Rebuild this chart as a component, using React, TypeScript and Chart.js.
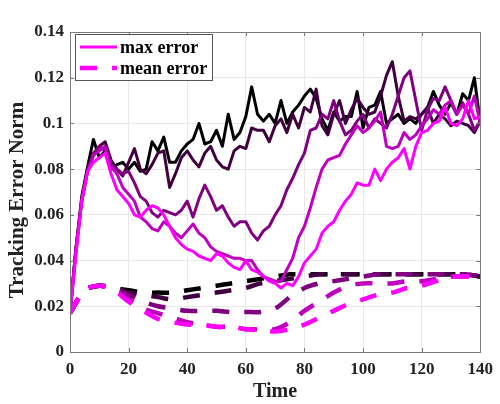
import React, { useEffect, useRef } from "react";
import { Chart, registerables } from "chart.js";

Chart.register(...registerables);

// ---------- data ----------
const timeMax = [
  0, 2, 4, 6, 8, 10, 12, 14, 16, 18,
  20, 22, 24, 26, 28, 30, 32, 34, 36, 38,
  40, 42, 44, 46, 48, 50, 52, 54, 56, 58,
  60, 62, 64, 66, 68, 70, 72, 74, 76, 78,
  80, 82, 84, 86, 88, 90, 92, 94, 96, 98,
  100, 102, 104, 106, 108, 110, 112, 114, 116, 118,
  120, 122, 124, 126, 128, 130, 132, 134, 136, 138,
  140,
];

const maxErr1 = [
  0.017, 0.045, 0.068, 0.081, 0.093, 0.085, 0.088, 0.080, 0.082, 0.083,
  0.080, 0.083, 0.079, 0.080, 0.092, 0.088, 0.094, 0.083, 0.083, 0.088,
  0.091, 0.093, 0.100, 0.091, 0.092, 0.097, 0.090, 0.104, 0.093, 0.096,
  0.103, 0.116, 0.104, 0.101, 0.104, 0.100, 0.110, 0.100, 0.105, 0.108,
  0.112, 0.115, 0.111, 0.102, 0.097, 0.105, 0.101, 0.103, 0.103, 0.114,
  0.098, 0.107, 0.108, 0.114, 0.100, 0.102, 0.104, 0.100, 0.102, 0.100,
  0.104, 0.107, 0.114, 0.108, 0.104, 0.109, 0.104, 0.113, 0.110, 0.120,
  0.100,
];

const maxErr2 = [
  0.017, 0.045, 0.066, 0.080, 0.086, 0.090, 0.092, 0.084, 0.080, 0.077,
  0.083, 0.089, 0.080, 0.078, 0.082, 0.087, 0.088, 0.072, 0.078, 0.085,
  0.088, 0.084, 0.081, 0.087, 0.090, 0.084, 0.081, 0.080, 0.088, 0.090,
  0.089, 0.098, 0.097, 0.097, 0.092, 0.099, 0.102, 0.096, 0.104, 0.098,
  0.107, 0.105, 0.115, 0.099, 0.095, 0.104, 0.110, 0.100, 0.106, 0.111,
  0.107, 0.104, 0.105, 0.112, 0.121, 0.127, 0.112, 0.101, 0.103, 0.102,
  0.104, 0.107, 0.100, 0.104, 0.102, 0.099, 0.101, 0.100, 0.099, 0.096,
  0.101,
];

const maxErr3 = [
  0.017, 0.044, 0.066, 0.079, 0.087, 0.090, 0.088, 0.082, 0.080, 0.078,
  0.079, 0.074, 0.068, 0.066, 0.061, 0.059, 0.062, 0.061, 0.060, 0.062,
  0.066, 0.059, 0.067, 0.073, 0.068, 0.062, 0.064, 0.059, 0.055, 0.057,
  0.057, 0.052, 0.049, 0.053, 0.055, 0.060, 0.064, 0.071, 0.076, 0.082,
  0.087, 0.097, 0.098, 0.104, 0.102, 0.110, 0.101, 0.095, 0.097, 0.101,
  0.104, 0.098, 0.102, 0.100, 0.098, 0.104, 0.112, 0.120, 0.123, 0.110,
  0.097, 0.106, 0.111, 0.110, 0.116, 0.110, 0.104, 0.109, 0.104, 0.097,
  0.101,
];

const maxErr4 = [
  0.017, 0.045, 0.066, 0.079, 0.086, 0.088, 0.090, 0.081, 0.078, 0.072,
  0.069, 0.066, 0.059, 0.057, 0.054, 0.053, 0.057, 0.055, 0.052, 0.050,
  0.053, 0.056, 0.052, 0.050, 0.046, 0.044, 0.043, 0.042, 0.041, 0.041,
  0.040, 0.040, 0.036, 0.033, 0.032, 0.031, 0.031, 0.036, 0.041, 0.050,
  0.055, 0.063, 0.072, 0.080, 0.084, 0.085, 0.086, 0.091, 0.095, 0.099,
  0.096, 0.098, 0.101, 0.105, 0.090, 0.089, 0.090, 0.096, 0.093, 0.095,
  0.099, 0.102, 0.106, 0.104, 0.108, 0.110, 0.104, 0.108, 0.104, 0.112,
  0.100,
];

const maxErr5 = [
  0.017, 0.042, 0.066, 0.079, 0.083, 0.085, 0.087, 0.078, 0.071, 0.068,
  0.065, 0.060, 0.059, 0.062, 0.064, 0.063, 0.060, 0.055, 0.050, 0.047,
  0.045, 0.044, 0.042, 0.041, 0.040, 0.043, 0.042, 0.039, 0.037, 0.036,
  0.040, 0.036, 0.035, 0.033, 0.031, 0.030, 0.028, 0.030, 0.029, 0.033,
  0.039, 0.042, 0.045, 0.052, 0.055, 0.057, 0.062, 0.066, 0.069, 0.074,
  0.073, 0.073, 0.080, 0.075, 0.080, 0.083, 0.085, 0.089, 0.080, 0.090,
  0.096, 0.097, 0.100, 0.101, 0.107, 0.100, 0.099, 0.102, 0.110, 0.102,
  0.103,
];

const timeMean = [
  0, 5, 10, 15, 20, 25, 30, 35, 40, 45,
  50, 55, 60, 65, 70, 75, 80, 85, 90, 95,
  100, 105, 110, 115, 120, 125, 130, 135, 140,
];

const meanErr1 = [
  0.017, 0.027, 0.029, 0.028, 0.027, 0.026, 0.026, 0.026, 0.027, 0.028,
  0.029, 0.030, 0.031, 0.032, 0.033, 0.034, 0.034, 0.034, 0.034, 0.034,
  0.034, 0.034, 0.034, 0.034, 0.034, 0.034, 0.034, 0.034, 0.033,
];

const meanErr2 = [
  0.017, 0.027, 0.029, 0.028, 0.026, 0.025, 0.024, 0.023, 0.024, 0.025,
  0.026, 0.027, 0.028, 0.030, 0.031, 0.032, 0.033, 0.034, 0.034, 0.034,
  0.034, 0.034, 0.034, 0.034, 0.034, 0.034, 0.034, 0.034, 0.033,
];

const meanErr3 = [
  0.017, 0.027, 0.029, 0.028, 0.025, 0.022, 0.020, 0.019, 0.018, 0.018,
  0.018, 0.0175, 0.0175, 0.0175, 0.019, 0.024, 0.028, 0.030, 0.031, 0.032,
  0.033, 0.034, 0.034, 0.034, 0.034, 0.034, 0.034, 0.034, 0.033,
];

const meanErr4 = [
  0.017, 0.027, 0.029, 0.027, 0.023, 0.019, 0.017, 0.015, 0.013, 0.012,
  0.011, 0.011, 0.010, 0.010, 0.010, 0.013, 0.018, 0.022, 0.026, 0.029,
  0.030, 0.030, 0.030, 0.031, 0.031, 0.032, 0.033, 0.033, 0.033,
];

const meanErr5 = [
  0.017, 0.027, 0.029, 0.027, 0.022, 0.018, 0.0145, 0.013, 0.012, 0.012,
  0.011, 0.011, 0.010, 0.0095, 0.009, 0.010, 0.012, 0.015, 0.018, 0.021,
  0.023, 0.025, 0.026, 0.028, 0.029, 0.031, 0.033, 0.033, 0.033,
];

const xTicks = [0, 20, 40, 60, 80, 100, 120, 140];
const yTicks = [0, 0.02, 0.04, 0.06, 0.08, 0.1, 0.12, 0.14];
const yTickLabels = ["0", "0.02", "0.04", "0.06", "0.08", "0.1", "0.12", "0.14"];
const legendLabels = ["max error", "mean error"];
const xTitle = "Time";
const yTitle = "Tracking Error Norm";

const lineColors = ["#000000", "#400040", "#800080", "#BF00BF", "#FF00FF"];
const maxSeries = [maxErr1, maxErr2, maxErr3, maxErr4, maxErr5];
const meanSeries = [meanErr1, meanErr2, meanErr3, meanErr4, meanErr5];

const FONT = "'Liberation Serif', 'Times New Roman', serif";
const DASH = [17, 15];

const framePlugin = {
  id: "matlabFrame",
  afterDraw(chart: any) {
    const { ctx, chartArea: a, scales } = chart;
    ctx.save();
    // inward ticks
    ctx.strokeStyle = "#7a7a7a";
    ctx.lineWidth = 1;
    ctx.beginPath();
    xTicks.forEach((v) => {
      const x = Math.round(scales.x.getPixelForValue(v)) + 0.5;
      ctx.moveTo(x, a.bottom);
      ctx.lineTo(x, a.bottom - 4);
      ctx.moveTo(x, a.top);
      ctx.lineTo(x, a.top + 4);
    });
    yTicks.forEach((v) => {
      const y = Math.round(scales.y.getPixelForValue(v)) + 0.5;
      ctx.moveTo(a.left, y);
      ctx.lineTo(a.left + 4, y);
      ctx.moveTo(a.right, y);
      ctx.lineTo(a.right - 4, y);
    });
    ctx.stroke();
    ctx.strokeRect(
      Math.round(a.left) + 0.5,
      Math.round(a.top) + 0.5,
      Math.round(a.right - a.left),
      Math.round(a.bottom - a.top)
    );

    // y axis title
    ctx.save();
    ctx.translate(18, (a.top + a.bottom) / 2 + 8);
    ctx.rotate(-Math.PI / 2);
    ctx.fillStyle = "#222222";
    ctx.font = `bold 21px ${FONT}`;
    ctx.textAlign = "center";
    ctx.textBaseline = "middle";
    ctx.fillText(yTitle, 0, 0);
    ctx.restore();

    // legend
    const bx = a.left + 5;
    const by = a.top + 2;
    const bw = 137;
    const bh = 46;
    ctx.fillStyle = "#ffffff";
    ctx.fillRect(bx, by, bw, bh);
    ctx.strokeStyle = "#555555";
    ctx.lineWidth = 1;
    ctx.strokeRect(Math.round(bx) + 0.5, Math.round(by) + 0.5, bw, bh);

    const lx0 = bx + 5;
    const lx1 = bx + 42;
    const y1 = by + 13;
    const y2 = by + 34;
    ctx.strokeStyle = lineColors[4];
    ctx.lineWidth = 3;
    ctx.setLineDash([]);
    ctx.beginPath();
    ctx.moveTo(lx0, y1);
    ctx.lineTo(lx1, y1);
    ctx.stroke();
    ctx.lineWidth = 4.5;
    ctx.setLineDash(DASH);
    ctx.beginPath();
    ctx.moveTo(lx0, y2);
    ctx.lineTo(lx1, y2);
    ctx.stroke();
    ctx.setLineDash([]);

    ctx.fillStyle = "#000000";
    ctx.font = `bold 18px ${FONT}`;
    ctx.textBaseline = "middle";
    ctx.textAlign = "left";
    ctx.fillText(legendLabels[0], bx + 45, y1 + 1);
    ctx.fillText(legendLabels[1], bx + 45, y2 + 1);
    ctx.restore();
  },
};

export default function App() {
  const canvasRef = useRef<HTMLCanvasElement | null>(null);

  useEffect(() => {
    if (!canvasRef.current) return;
    const solid = maxSeries.map((arr, i) => ({
      label: legendLabels[0] + " " + (i + 1),
      data: timeMax.map((t, k) => ({ x: t, y: arr[k] })),
      borderColor: lineColors[i],
      backgroundColor: lineColors[i],
      borderWidth: 3,
      pointRadius: 0,
      tension: 0,
      borderJoinStyle: "round" as const,
      fill: false,
      order: 2 * (4 - i) + 1,
    }));
    const dashed = meanSeries.map((arr, i) => ({
      label: legendLabels[1] + " " + (i + 1),
      data: timeMean.map((t, k) => ({ x: t, y: arr[k] })),
      borderColor: lineColors[i],
      backgroundColor: lineColors[i],
      borderWidth: 4.5,
      borderDash: DASH,
      borderCapStyle: "butt" as const,
      pointRadius: 0,
      tension: 0.3,
      fill: false,
      order: 2 * (4 - i),
    }));

    const chart = new Chart(canvasRef.current, {
      type: "line",
      data: { datasets: [...solid, ...dashed] },
      plugins: [framePlugin],
      options: {
        animation: false,
        responsive: false,
        devicePixelRatio: 1,
        layout: { padding: { left: 0, right: 13, top: 32, bottom: 0 } },
        plugins: { legend: { display: false }, tooltip: { enabled: false } },
        scales: {
          x: {
            type: "linear",
            min: 0,
            max: 140,
            afterBuildTicks: (s: any) => {
              s.ticks = xTicks.map((v) => ({ value: v }));
            },
            afterFit: (s: any) => {
              s.height = 52;
            },
            grid: { color: "#e8e8e8", drawTicks: false },
            border: { display: false },
            ticks: {
              color: "#222222",
              font: { family: FONT, size: 17, weight: "bold" },
              padding: 7,
              maxRotation: 0,
              callback: (v: any) => String(v),
            },
            title: {
              display: true,
              text: xTitle,
              color: "#222222",
              font: { family: FONT, size: 20, weight: "bold" },
              padding: { top: 0, bottom: 0 },
            },
          },
          y: {
            type: "linear",
            min: 0,
            max: 0.14,
            afterBuildTicks: (s: any) => {
              s.ticks = yTicks.map((v) => ({ value: v }));
            },
            afterFit: (s: any) => {
              s.width = 70;
            },
            grid: { color: "#e8e8e8", drawTicks: false },
            border: { display: false },
            ticks: {
              color: "#222222",
              font: { family: FONT, size: 17, weight: "bold" },
              padding: 6,
              callback: (_v: any, i: number) => yTickLabels[i],
            },
          },
        },
      },
    });
    return () => chart.destroy();
  }, []);

  return (
    <div style={{ position: "absolute", left: 0, top: 0, width: 500, height: 404, background: "#ffffff" }}>
      <canvas ref={canvasRef} width={500} height={404} />
    </div>
  );
}
